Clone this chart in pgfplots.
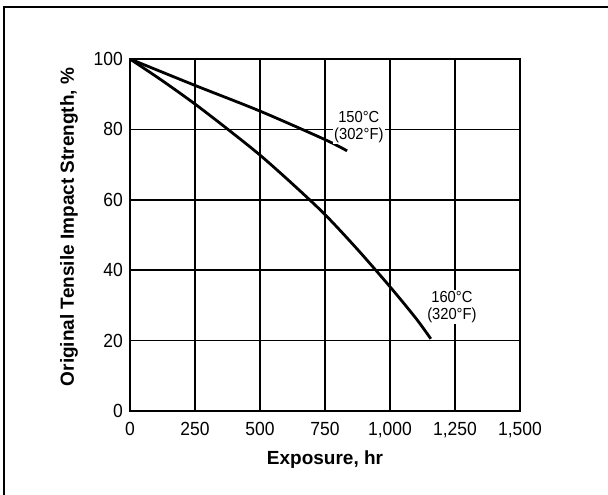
\documentclass[border=0pt]{standalone}
\usepackage{fontspec}
\setmainfont{Liberation Sans}
\newfontfamily\condfont{Liberation Sans}[FakeStretch=0.92]
\usepackage{pgfplots}
\pgfplotsset{compat=1.18}

\begin{document}
\begin{tikzpicture}
\path[use as bounding box] (-130pt,-84pt) rectangle (478pt,411pt);
\draw[line width=1.8pt] (-126pt,-84pt) -- (-126pt,404pt) -- (478pt,404pt);
\begin{axis}[
    at={(0pt,0pt)}, anchor=south west,
    scale only axis, width=390pt, height=352pt,
    xmin=0, xmax=1500, ymin=0, ymax=100,
    xtick={0,250,500,750,1000,1250,1500},
    xticklabels={0,250,500,750,{1,000},{1,250},{1,500}},
    ytick={0,20,40,60,80,100},
    grid=major, major grid style={black, line width=1.5pt},
    axis line style={line width=1.5pt},
    tick style={draw=none},
    /pgf/number format/assume math mode=true,
    tick label style={font=\condfont\fontsize{19}{20}\selectfont, inner sep=0pt},
    xticklabel style={anchor=base, yshift=-24pt},
    yticklabel style={anchor=east, xshift=-7pt},
    xlabel={Exposure, hr},
    ylabel={Original Tensile Impact Strength, \%},
    label style={font=\bfseries\fontsize{19}{22}\selectfont, inner sep=0pt},
    xlabel style={at={(axis description cs:0.5,-0.1534)}, anchor=base},
    ylabel style={at={(axis description cs:-0.1436,0.523)}, anchor=base},
]
\addplot[black, line width=2.8pt, smooth] coordinates {
    (0,100) (250,92.5) (500,85.2) (750,77.1) (835,73.9)
};
\addplot[black, line width=2.8pt, smooth] coordinates {
    (0,100) (125,93.8) (250,87.2) (375,80.1) (500,72.7) (625,64.5)
    (750,55.8) (875,45.9) (1000,35.3) (1100,26.3) (1157,20.5)
};
\node[fill=white, align=center, inner sep=1.5pt, font=\condfont\fontsize{16}{16.5}\selectfont]
    at (axis cs:880,80.7) {150°C\\(302°F)};
\node[fill=white, align=center, inner sep=1.5pt, font=\condfont\fontsize{16}{16.5}\selectfont]
    at (axis cs:1238,29.5) {160°C\\(320°F)};
\end{axis}
\end{tikzpicture}
\end{document}
